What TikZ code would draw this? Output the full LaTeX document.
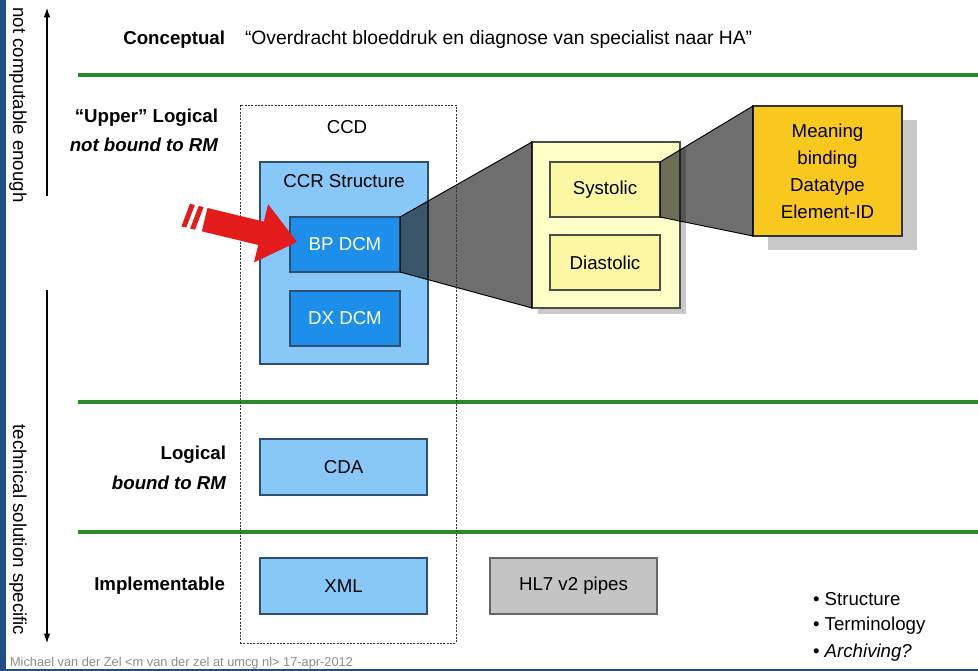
\documentclass[tikz,border=0pt]{standalone}
\usepackage{fontspec}
\setmainfont{Liberation Sans}
\usetikzlibrary{arrows.meta}

\definecolor{frameblue}{HTML}{1F4E89}
\definecolor{divgreen}{HTML}{2A8A2A}
\definecolor{lightblue}{HTML}{88C8F8}
\definecolor{dcmblue}{HTML}{1E8EEB}
\definecolor{blueedge}{HTML}{2E5070}
\definecolor{paleyellow}{HTML}{FFFFC8}
\definecolor{itemyellow}{HTML}{FBF7A2}
\definecolor{gold}{HTML}{F9C81E}
\definecolor{pipegray}{HTML}{C4C4C4}
\definecolor{shadowgray}{HTML}{C8C8C8}
\definecolor{arrowred}{HTML}{E31B1B}
\definecolor{footgray}{HTML}{8C8C8C}

\tikzset{
  txt/.style={font=\fontsize{14}{20.25}\selectfont, inner sep=0pt, outer sep=0pt},
  txtbold/.style={txt, font=\fontsize{14}{20.25}\selectfont\bfseries},
  txtboldit/.style={txt, font=\fontsize{14}{20.25}\selectfont\bfseries\itshape},
  sidetxt/.style={txt, rotate=-90},
  divider/.style={draw=divgreen, line width=2.4pt},
  blockbox/.style={draw=blueedge, line width=0.9pt, inner sep=0pt, outer sep=0pt,
    font=\fontsize{14}{20.25}\selectfont},
  rmbox/.style={blockbox, fill=lightblue, minimum width=125.25pt, minimum height=42pt},
  dcmbox/.style={blockbox, fill=dcmblue, text=white, minimum width=82.5pt, minimum height=41.25pt},
  itembox/.style={blockbox, draw=black!70, fill=itemyellow, minimum width=82.5pt, minimum height=41.25pt},
  zoomcone/.style={fill=black, fill opacity=0.57, draw=black, line width=0.7pt},
  axis/.style={line width=0.8pt, -{Latex[length=7pt,width=5pt]}},
}

\begin{document}
\begin{tikzpicture}[x=0.75pt, y=-0.75pt]
\useasboundingbox (0,0) rectangle (978,671);
\fill[white] (0,0) rectangle (978,671);

% --- side axes -------------------------------------------------------
\coordinate (upS) at (47,196);
\coordinate (upE) at (47,8);
\coordinate (dnS) at (47,290);
\coordinate (dnE) at (47,643);
\draw[axis] (upS) -- (upE);
\draw[axis] (dnS) -- (dnE);
\node[sidetxt] (sidetop) at (18,105) {not computable enough};
\node[sidetxt] (sidebot) at (18,530) {technical solution specific};

% --- level dividers --------------------------------------------------
\draw[divider] (78,75) -- (978,75);
\draw[divider] (78,402) -- (978,402);
\draw[divider] (78,532) -- (978,532);

% --- level labels ----------------------------------------------------
\node[txtbold, anchor=east] (lvlconc) at (225,40) {Conceptual};
\node[txt, font=\fontsize{14.5}{20}\selectfont, anchor=west] (quote) at (245,40) {“Overdracht bloeddruk en diagnose van specialist naar HA”};
\node[txtbold, anchor=east] (lvlupper) at (218,118) {“Upper” Logical};
\node[txtboldit, anchor=east] (lvlupper2) at (218,145) {not bound to RM};
\node[txtbold, anchor=east] (lvllog) at (226,455) {Logical};
\node[txtboldit, anchor=east] (lvllog2) at (226,483) {bound to RM};
\node[txtbold, anchor=east] (lvlimpl) at (225,586) {Implementable};

% --- CCD column ------------------------------------------------------
\node[blockbox, fill=lightblue, minimum width=126pt, minimum height=151.5pt] (ccr) at (344,263) {};
\node[txt] (ccrlabel) at (344,181) {CCR Structure};
\node[txt] (ccdlabel) at (347,127) {CCD};
\node[dcmbox] (bp) at (345,244.5) {BP DCM};
\node[dcmbox] (dx) at (345,318.5) {DX DCM};
\node[rmbox] (cda) at (343.5,467) {CDA};
\node[rmbox] (xml) at (343.5,586) {XML};
\node[blockbox, draw=black!60, fill=pipegray, minimum width=125.25pt, minimum height=42pt] (pipes) at (573.5,586) {HL7 v2 pipes};

% --- first zoom: BP DCM -> its elements ------------------------------
\fill[shadowgray] (538,148) rectangle (686,314);
\node[blockbox, draw=black!70, fill=paleyellow, minimum width=111pt, minimum height=124.5pt] (elems) at (606,225) {};
\draw[zoomcone] (bp.north east) -- (elems.north west) -- (elems.south west) -- (bp.south east) -- cycle;
\node[itembox] (sys) at (605,189.5) {Systolic};
\node[itembox] (dia) at (605,262.5) {Diastolic};

% --- second zoom: Systolic -> its properties -------------------------
\fill[shadowgray] (768,120) rectangle (917,250);
\node[blockbox, draw=black!80, fill=gold, minimum width=111.75pt, minimum height=97.5pt,
      align=center] (props) at (827.5,171) {Meaning\\binding\\Datatype\\Element-ID};
\draw[zoomcone] (sys.north east) -- (props.north west) -- (props.south west) -- (sys.south east) -- cycle;

% --- CCD boundary (dashed) -------------------------------------------
\node[draw=black!80, dash pattern=on 1.5pt off 1pt, line width=0.7pt,
      minimum width=162pt, minimum height=403.5pt, inner sep=0pt] (ccd) at (348,374) {};

% --- red pointer at BP DCM -------------------------------------------
\begin{scope}[shift={(297,242)}, rotate=-13.6]
  \fill[arrowred] (0,0) -- (-37,-30) -- (-37,-12) -- (-95,-12) -- (-95,12) -- (-37,12) -- (-37,30) -- cycle;
  \fill[arrowred] (-99,-12) -- (-104,-12) -- (-107,12) -- (-102,12) -- cycle;
  \fill[arrowred] (-108,-12) -- (-113,-12) -- (-116,12) -- (-111,12) -- cycle;
\end{scope}

% --- bullet list -----------------------------------------------------
\node[txt, anchor=west] (b1) at (813,599) {• Structure};
\node[txt, anchor=west] (b2) at (813,626) {• Terminology};
\node[txt, anchor=west] (b3) at (813,653) {• \textit{Archiving?}};

% --- footer and frame ------------------------------------------------
\node[txt, font=\fontsize{9.6}{11}\selectfont, text=footgray, anchor=base west] (foot) at (10,666)
  {Michael van der Zel <m van der zel at umcg nl> 17-apr-2012};
\fill[frameblue] (0,0) rectangle (6,671);
\fill[frameblue] (0,669) rectangle (978,671);
\end{tikzpicture}
\end{document}
